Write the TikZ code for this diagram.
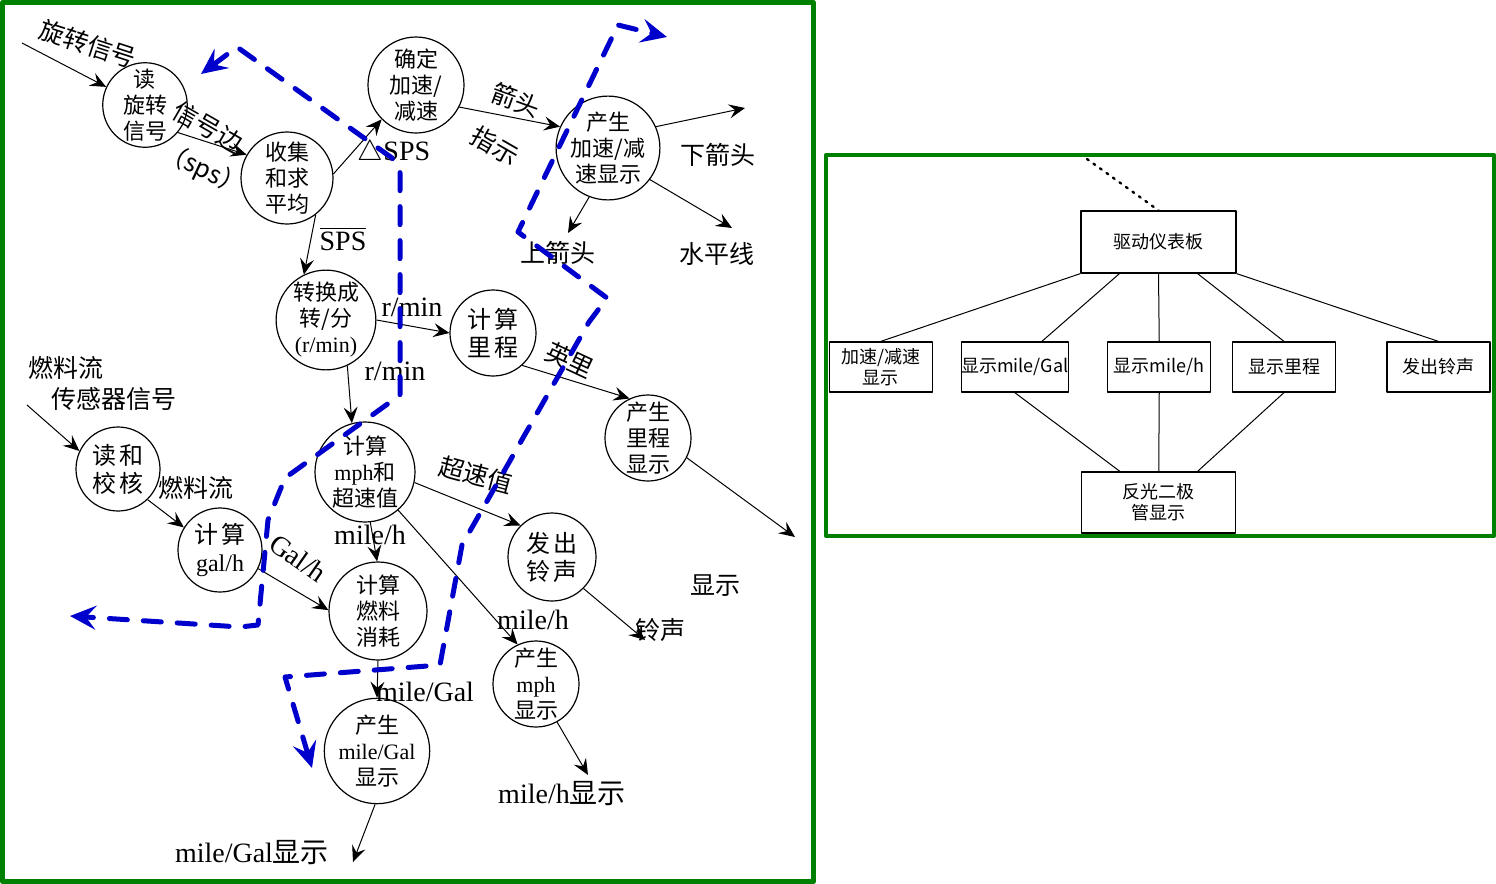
\documentclass[tikz,border=0pt]{standalone}
\usepackage{fontspec}
\setmainfont{Liberation Serif}
\newfontfamily\cjk{Noto Sans CJK SC}
\newfontfamily\lat{Liberation Serif}
\usetikzlibrary{arrows.meta,calc}
\definecolor{frm}{RGB}{0,128,0}
\definecolor{bnd}{RGB}{0,0,204}
\tikzset{
  proc/.style={circle, draw, line width=0.6pt, minimum size=#1, inner sep=0pt,
    align=center, font=\cjk\fontsize{11}{13}\selectfont},
  proc/.default=44pt,
  lbl/.style={inner sep=0pt, font=\cjk\fontsize{12.5}{14}\selectfont},
  nlbl/.style={inner sep=0pt, font=\lat\fontsize{14}{16}\selectfont},
  flow/.style={line width=0.5pt, -{Stealth[length=8pt,width=7pt,inset=3pt]}},
  bound/.style={draw=bnd, line width=2.5pt, line cap=round, line join=round,
    dash pattern=on 9pt off 8pt,
    {Stealth[length=13pt,width=12pt,inset=5pt]}-{Stealth[length=13pt,width=12pt,inset=5pt]}},
  box/.style={rectangle, draw, line width=0.6pt, inner sep=0pt, align=center,
    font=\cjk\fontsize{9}{10.5}\selectfont},
  sbox/.style={box, minimum width=51.5pt, minimum height=25pt},
  link/.style={line width=0.5pt}
}
\begin{document}
\begin{tikzpicture}[x=0.5pt, y=-0.5pt, line join=round]
  \useasboundingbox (0,0) rectangle (1496,884);
  \fill[white] (0,0) rectangle (1496,884);
  % frames
  \draw[frm, line width=2.5pt] (2.5,2.5) rectangle (813.5,881.5);
  \draw[frm, line width=2pt] (826,155) rectangle (1494,536);

  % processes
  \node[proc=42pt] (rdrot) at (145,105) {读\\旋转\\信号};
  \node[proc=46pt] (avg) at (287,178) {收集\\和求\\平均};
  \node[proc=48pt] (acc) at (416,85) {确定\\加速/\\减速};
  \node[proc=48pt] (accdisp) at (608,148) {产生\\加速/减\\速显示};
  \node[proc=47pt] (rpm) at (326,320) {转换成\\转/分\\{\lat (r/min)}};
  \node[proc=43pt, font=\cjk\fontsize{12}{14}\selectfont] (odo) at (493,333) {计\hspace{2pt}算\\里\hspace{2pt}程};
  \node[proc=43pt] (odod) at (648,438) {产生\\里程\\显示};
  \node[proc=42pt, font=\cjk\fontsize{12}{14}\selectfont] (rdfuel) at (118,469) {读\hspace{2pt}和\\校\hspace{2pt}核};
  \node[proc=50pt] (mph) at (365,472) {计算\\{\lat mph}和\\超速值};
  \node[proc=42pt, font=\cjk\fontsize{12}{14}\selectfont] (galh) at (220,550) {计\hspace{2pt}算\\{\lat gal/h}};
  \node[proc=49pt] (fuel) at (378,611) {计算\\燃料\\消耗};
  \node[proc=44pt, font=\cjk\fontsize{12}{14}\selectfont] (bell) at (552,557) {发\hspace{2pt}出\\铃\hspace{2pt}声};
  \node[proc=43pt] (mphd) at (536,684) {产生\\{\lat mph}\\显示};
  \node[proc=48pt] (mpgd) at (377,751) {产生\\{\lat mile/Gal}\\显示};

  % free ends
  \coordinate (rotin) at (22,43);
  \coordinate (fuelin) at (27,405);
  \coordinate (dn) at (745,108);
  \coordinate (up) at (568,233);
  \coordinate (lvl) at (732,228);
  \coordinate (odoout) at (795,537);
  \coordinate (bellout) at (645,640);
  \coordinate (mphout) at (588,775);
  \coordinate (mpgout) at (353,862);

  % flows
  \draw[flow] (rotin) -- (rdrot.155);
  \draw[flow] (rdrot.-40) -- (avg.150);
  \draw[flow] (avg.5) -- (acc.-135);
  \draw[flow] (avg.-52) -- (rpm.116);
  \draw[flow] (acc.-27) -- (accdisp.156);
  \draw[flow] (accdisp.24) -- (dn);
  \draw[flow] (accdisp.-111) -- (up);
  \draw[flow] (accdisp.-37) -- (lvl);
  \draw[flow] (rpm.0) -- (odo.180);
  \draw[flow] (rpm.-65) -- (mph.105);
  \draw[flow] (odo.-48) -- (odod.115);
  \draw[flow] (odod.-27) -- (odoout);
  \draw[flow] (fuelin) -- (rdfuel.155);
  \draw[flow] (rdfuel.-46) -- (galh.148);
  \draw[flow] (mph.-12) -- (bell.135);
  \draw[flow] (mph.-84) -- (fuel.91);
  \draw[flow] (mph.-49) -- (mphd.115);
  \draw[flow] (galh.-26) -- (fuel.179);
  \draw[flow] (fuel.-90) -- (mpgd.90);
  \draw[flow] (bell.-45) -- (bellout);
  \draw[flow] (mphd.-61) -- (mphout);
  \draw[flow] (mpgd.-92) -- (mpgout);

  % flow labels
  \node[lbl, rotate=-18] (lrot) at (88,44) {旋转信号};
  \node[lbl, rotate=-30] (ledge) at (208,127) {信号边};
  \node[lbl, rotate=-25] (lsps) at (203,170) {（sps）};
  \node[nlbl] (ldsps) at (394,153) {$\triangle$SPS};
  \node[nlbl] (lsbar) at (343,239) {$\overline{\hbox{SPS}}$};
  \node[lbl, rotate=-20] (larr) at (516,100) {箭头};
  \node[lbl, rotate=-30] (lind) at (495,146) {指示};
  \node[lbl] (ldn) at (718,155) {下箭头};
  \node[lbl] (lup) at (558,253) {上箭头};
  \node[lbl] (llvl) at (717,254) {水平线};
  \node[nlbl] (lrpm1) at (412,307) {r/min};
  \node[nlbl] (lrpm2) at (395,371) {r/min};
  \node[lbl, rotate=-25] (lmile) at (570,360) {英里};
  \node[lbl] (lfuel1) at (66,368) {燃料流};
  \node[lbl] (lfuel2) at (114,399) {传感器信号};
  \node[lbl] (lfuel3) at (196,488) {燃料流};
  \node[lbl, rotate=-15] (lover) at (476,475) {超速值};
  \node[nlbl] (lmph1) at (370,535) {mile/h};
  \node[nlbl] (lmph2) at (533,620) {mile/h};
  \node[nlbl, rotate=-35] (lgal) at (298,558) {Gal/h};
  \node[nlbl] (lmpg) at (425,692) {mile/Gal};
  \node[lbl] (lbell) at (660,630) {铃声};
  \node[lbl] (ldisp) at (715,586) {显示};
  \node[nlbl] (lmphd) at (562,794) {mile/h{\cjk 显示}};
  \node[nlbl] (lmpgd) at (252,853) {mile/Gal{\cjk 显示}};

  % boundaries
  \draw[bound] (201,74) -- (237,47) -- (392,158) -- (400,172) -- (400,395)
    -- (285,478) -- (268,520) -- (258,625) -- (240,627) -- (70,616);
  \draw[bound] (312,768) -- (285,677) -- (440,665) -- (462,545) -- (589,322)
    -- (607,298) -- (518,232) -- (618,25) -- (667,37);

  % structure chart
  \node[box, minimum width=77.5pt, minimum height=31pt] (drv) at (1158.5,242) {驱动仪表板};
  \node[sbox] (acd) at (880.75,367) {加速/减速\\显示};
  \node[sbox] (mgd) at (1014.75,367) {显示mile/Gal};
  \node[sbox] (mhd) at (1159.25,367) {显示mile/h};
  \node[sbox] (odd) at (1284,367) {显示里程};
  \node[sbox] (bld) at (1438.5,367) {发出铃声};
  \node[box, minimum width=77pt, minimum height=30.5pt] (led) at (1158.75,502.5) {反光二极\\管显示};
  \coordinate (dotsrc) at (1087,159);
  \draw[line width=1.2pt, dash pattern=on 1pt off 3pt, line cap=round] (dotsrc) -- (drv.north);
  \draw[link] (drv.south west) -- (acd.north);
  \draw[link] ($(drv.south west)!0.25!(drv.south east)$) -- ($(mgd.north west)!0.75!(mgd.north east)$);
  \draw[link] (drv.south) -- (mhd.north);
  \draw[link] ($(drv.south west)!0.75!(drv.south east)$) -- (odd.north);
  \draw[link] (drv.south east) -- (bld.north);
  \draw[link] (mgd.south) -- ($(led.north west)!0.25!(led.north east)$);
  \draw[link] (mhd.south) -- (led.north);
  \draw[link] (odd.south) -- ($(led.north west)!0.75!(led.north east)$);
\end{tikzpicture}
\end{document}
